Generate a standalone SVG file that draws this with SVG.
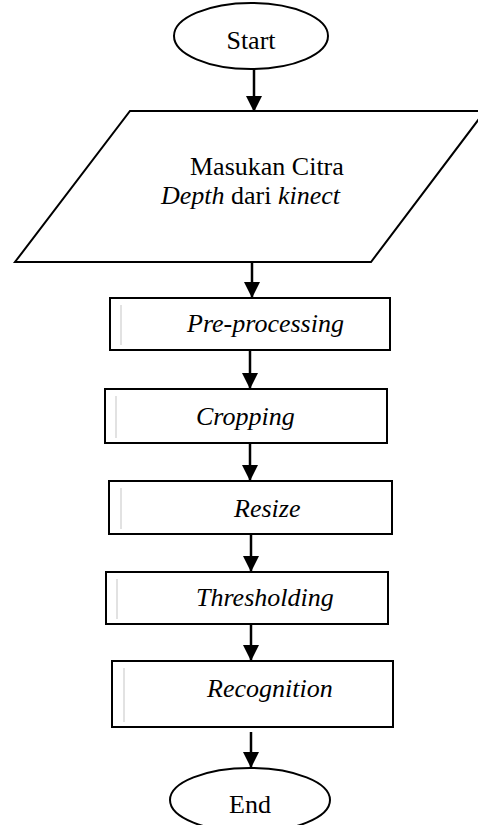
<svg xmlns="http://www.w3.org/2000/svg" width="478" height="825" viewBox="0 0 478 825">
<style>
.shape{fill:#fff;stroke:#000;stroke-width:2}
.t{font-family:"Liberation Serif","Times New Roman",serif;font-size:26px;fill:#000}
.i{font-style:italic}
.c{text-anchor:middle}
.edge{stroke:#000;stroke-width:2.5;fill:none}
.ghost{stroke:#d8d8d8;stroke-width:1.5}
</style>
<defs>
<marker id="ah" markerWidth="17" markerHeight="17" refX="16" refY="8" orient="auto" markerUnits="userSpaceOnUse" viewBox="0 0 17 17">
<path d="M0,0 L16,8 L0,16 Z" fill="#000"/>
</marker>
</defs>
<rect width="478" height="825" fill="#fff"/>
<g id="start">
<ellipse class="shape" cx="251" cy="36" rx="77" ry="33"/>
<text class="t c" x="251" y="49">Start</text>
</g>
<g id="input">
<polygon class="shape" stroke-width="1.6" points="130,111 485,111 371,262 15,262"/>
<text class="t" x="190" y="175">Masukan Citra</text>
<text class="t" x="161" y="204"><tspan class="i">Depth</tspan> dari <tspan class="i">kinect</tspan></text>
</g>
<g id="preprocessing">
<rect class="shape" x="110" y="298" width="280" height="52"/>
<line class="ghost" x1="121" y1="305" x2="121" y2="345"/>
<text class="t i" x="187" y="332">Pre-processing</text>
</g>
<g id="cropping">
<rect class="shape" x="105" y="389" width="282" height="54"/>
<line class="ghost" x1="116" y1="396" x2="116" y2="438"/>
<text class="t i" x="196" y="425">Cropping</text>
</g>
<g id="resize">
<rect class="shape" x="109" y="481" width="283" height="53"/>
<line class="ghost" x1="121" y1="488" x2="121" y2="529"/>
<text class="t i" x="234" y="517">Resize</text>
</g>
<g id="thresholding">
<rect class="shape" x="106" y="572" width="282" height="52"/>
<line class="ghost" x1="117" y1="579" x2="117" y2="619"/>
<text class="t i" x="196" y="606">Thresholding</text>
</g>
<g id="recognition">
<rect class="shape" x="112" y="661" width="281" height="66"/>
<line class="ghost" x1="124" y1="668" x2="124" y2="722"/>
<text class="t i" x="207" y="697">Recognition</text>
</g>
<g id="end">
<ellipse class="shape" cx="250" cy="800" rx="80" ry="32"/>
<text class="t c" x="250" y="813">End</text>
</g>
<g id="connectors">
<line class="edge" x1="254" y1="69" x2="254" y2="112" marker-end="url(#ah)"/>
<line class="edge" x1="252" y1="262" x2="252" y2="298" marker-end="url(#ah)"/>
<line class="edge" x1="250" y1="350" x2="250" y2="389" marker-end="url(#ah)"/>
<line class="edge" x1="250" y1="443" x2="250" y2="481" marker-end="url(#ah)"/>
<line class="edge" x1="251" y1="534" x2="251" y2="572" marker-end="url(#ah)"/>
<line class="edge" x1="251" y1="624" x2="251" y2="661" marker-end="url(#ah)"/>
<line class="edge" x1="251" y1="732" x2="251" y2="768" marker-end="url(#ah)"/>
</g>
</svg>
